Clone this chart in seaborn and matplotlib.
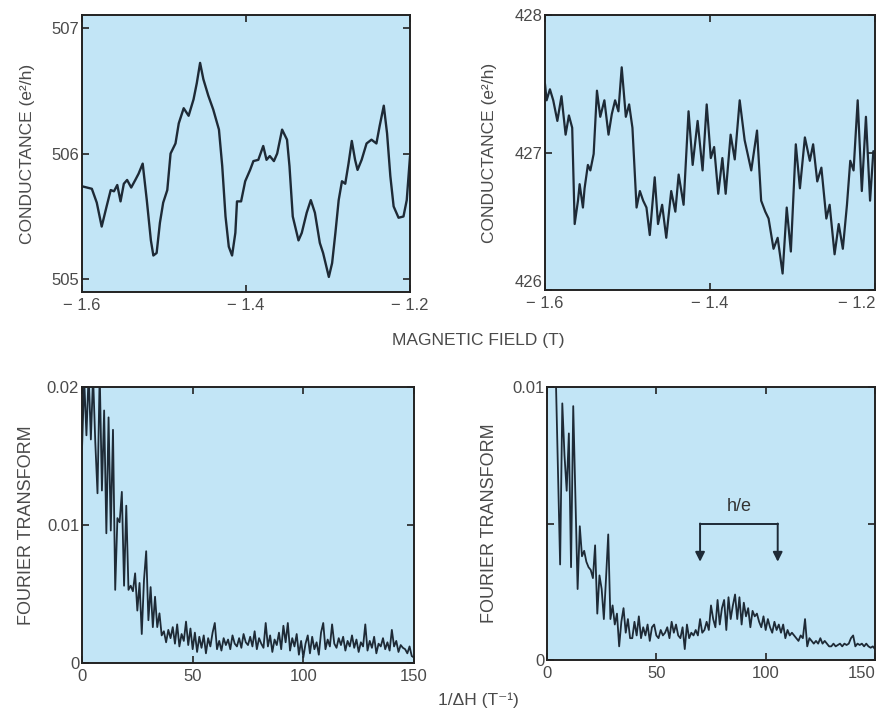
import matplotlib
matplotlib.use("Agg")
import matplotlib.pyplot as plt
from matplotlib.ticker import FuncFormatter
import seaborn as sns
import pandas as pd
import numpy as np

# conductance vs magnetic field, left device (e^2/h)
field_a = [-1.600, -1.594, -1.588, -1.582, -1.576, -1.570, -1.565, -1.561, -1.557, -1.553,
           -1.549, -1.545, -1.540, -1.535, -1.531, -1.526, -1.521, -1.516, -1.513, -1.509,
           -1.505, -1.501, -1.496, -1.492, -1.486, -1.482, -1.476, -1.470, -1.464, -1.460,
           -1.456, -1.452, -1.446, -1.440, -1.433, -1.429, -1.425, -1.421, -1.417, -1.413,
           -1.411, -1.406, -1.401, -1.395, -1.391, -1.385, -1.379, -1.375, -1.371, -1.366,
           -1.362, -1.356, -1.350, -1.347, -1.343, -1.336, -1.332, -1.326, -1.321, -1.316,
           -1.310, -1.306, -1.299, -1.295, -1.291, -1.287, -1.283, -1.279, -1.275, -1.271,
           -1.267, -1.264, -1.259, -1.253, -1.247, -1.241, -1.237, -1.232, -1.228, -1.224,
           -1.220, -1.214, -1.208, -1.204, -1.200]
cond_a = [505.74, 505.73, 505.72, 505.61, 505.42, 505.58, 505.71, 505.70, 505.75, 505.62,
          505.76, 505.79, 505.73, 505.79, 505.84, 505.92, 505.63, 505.31, 505.19, 505.21,
          505.45, 505.61, 505.71, 506.00, 506.08, 506.24, 506.36, 506.30, 506.43, 506.56,
          506.72, 506.59, 506.46, 506.35, 506.19, 505.90, 505.50, 505.26, 505.19, 505.37,
          505.62, 505.62, 505.78, 505.87, 505.94, 505.95, 506.06, 505.95, 505.98, 505.94,
          506.00, 506.19, 506.11, 505.90, 505.50, 505.31, 505.37, 505.53, 505.63, 505.53,
          505.29, 505.21, 505.02, 505.13, 505.37, 505.63, 505.78, 505.76, 505.92, 506.10,
          505.95, 505.87, 505.95, 506.08, 506.11, 506.08, 506.22, 506.38, 506.16, 505.82,
          505.58, 505.49, 505.50, 505.63, 505.98]

# conductance vs magnetic field, right device (e^2/h)
field_b = [-1.600, -1.598, -1.594, -1.590, -1.585, -1.580, -1.575, -1.571, -1.567, -1.564,
           -1.560, -1.558, -1.554, -1.552, -1.548, -1.545, -1.541, -1.537, -1.533, -1.528,
           -1.523, -1.519, -1.515, -1.511, -1.507, -1.502, -1.498, -1.494, -1.489, -1.485,
           -1.481, -1.477, -1.473, -1.467, -1.463, -1.458, -1.453, -1.447, -1.442, -1.438,
           -1.432, -1.426, -1.421, -1.415, -1.409, -1.404, -1.399, -1.395, -1.390, -1.385,
           -1.381, -1.375, -1.370, -1.364, -1.358, -1.350, -1.343, -1.338, -1.333, -1.329,
           -1.323, -1.318, -1.312, -1.307, -1.302, -1.296, -1.291, -1.285, -1.279, -1.275,
           -1.270, -1.265, -1.259, -1.255, -1.249, -1.244, -1.239, -1.234, -1.230, -1.226,
           -1.221, -1.216, -1.211, -1.206, -1.202]
cond_b = [427.50, 427.38, 427.46, 427.38, 427.23, 427.41, 427.13, 427.27, 427.18, 426.48,
          426.65, 426.77, 426.60, 426.74, 426.91, 426.87, 426.99, 427.45, 427.26, 427.38,
          427.13, 427.28, 427.38, 427.30, 427.62, 427.26, 427.35, 427.18, 426.60, 426.72,
          426.65, 426.60, 426.40, 426.82, 426.48, 426.62, 426.38, 426.72, 426.57, 426.84,
          426.62, 427.30, 426.91, 427.23, 426.87, 427.35, 426.96, 427.04, 426.70, 426.96,
          426.70, 427.13, 426.95, 427.38, 427.09, 426.87, 427.16, 426.65, 426.57, 426.52,
          426.30, 426.38, 426.12, 426.60, 426.28, 427.06, 426.74, 427.11, 426.94, 427.06,
          426.79, 426.89, 426.52, 426.62, 426.26, 426.48, 426.30, 426.62, 426.94, 426.87,
          427.38, 426.72, 427.26, 426.65, 427.01]

# Fourier transforms (units of 1e-3), 1/dH from 0 to 150 T^-1
freq_a = list(range(0, 151))
fft_a = [15.5, 20.5, 16.5, 21.0, 16.2, 20.8, 16.0, 12.3, 21.0, 12.5,
         18.3, 9.4, 17.8, 9.6, 16.9, 5.3, 10.5, 10.2, 12.4, 5.6,
         11.4, 5.3, 5.6, 5.2, 6.5, 3.8, 5.8, 2.1, 6.0, 8.1,
         3.1, 5.5, 2.6, 4.8, 2.6, 3.6, 2.0, 2.3, 1.5, 2.4,
         1.8, 2.6, 1.4, 2.8, 1.2, 2.1, 1.6, 3.0, 1.3, 2.5,
         1.0, 2.2, 0.8, 1.9, 1.1, 2.0, 0.7, 1.8, 1.2, 2.2,
         2.9, 1.0, 1.6, 0.9, 1.8, 1.3, 1.7, 1.0, 2.0, 1.4,
         1.2, 1.8, 1.1, 2.1, 1.5, 1.3, 1.9, 1.2, 2.3, 1.0,
         1.8, 1.4, 1.1, 2.9, 1.2, 2.0, 0.8, 1.7, 1.3, 2.2,
         1.0, 2.7, 1.5, 2.9, 0.9, 1.8, 1.2, 2.1, 0.6, 1.6,
         0.4, 1.4, 2.0, 0.7, 1.9, 1.0, 1.5, 0.6, 2.2, 2.9,
         1.0, 1.7, 1.2, 2.8, 1.4, 1.1, 1.8, 1.3, 1.9, 0.9,
         1.6, 1.2, 2.0, 1.1, 1.7, 0.8, 1.5, 1.2, 2.8, 0.9,
         1.6, 1.1, 1.9, 0.7, 1.4, 1.2, 1.8, 1.0, 1.5, 0.9,
         2.4, 1.2, 1.6, 0.8, 1.3, 1.1, 1.0, 0.7, 1.2, 0.5,
         0.4]

freq_b = list(range(4, 151))
fft_b = [10.5, 7.0, 3.5, 9.4, 7.5, 6.2, 8.3, 3.4, 9.3, 6.0,
         2.6, 4.9, 3.8, 4.0, 3.6, 3.4, 3.3, 3.0, 4.2, 1.7,
         3.1, 2.6, 1.5, 3.0, 4.6, 1.5, 2.0, 1.3, 1.7, 0.5,
         1.4, 1.9, 1.0, 1.5, 0.8, 0.8, 1.4, 0.9, 1.6, 0.8,
         1.2, 0.9, 1.3, 0.7, 1.2, 1.3, 0.9, 0.8, 1.1, 0.9,
         1.0, 1.2, 0.8, 1.4, 1.0, 1.3, 0.9, 0.8, 1.2, 0.4,
         1.3, 0.8, 1.0, 0.9, 1.1, 0.9, 1.5, 1.0, 1.1, 1.4,
         1.1, 2.0, 1.5, 1.2, 2.2, 1.3, 1.9, 2.2, 1.1, 2.3,
         1.5, 2.0, 2.4, 1.5, 2.3, 1.3, 2.1, 1.6, 1.9, 1.2,
         1.8, 1.6, 1.7, 1.4, 1.2, 1.6, 1.1, 1.5, 1.2, 1.0,
         1.4, 1.1, 1.3, 1.0, 1.3, 0.8, 1.1, 0.9, 1.0, 0.9,
         0.8, 0.7, 0.9, 0.8, 1.5, 0.5, 0.8, 0.7, 0.6, 0.7,
         0.6, 0.8, 0.6, 0.7, 0.6, 0.5, 0.5, 0.6, 0.5, 0.55,
         0.6, 0.5, 0.6, 0.55, 0.6, 0.8, 0.9, 0.5, 0.6, 0.55,
         0.6, 0.5, 0.6, 0.5, 0.45, 0.5, 0.4]

# h/e bracket on the right transform
he_left, he_right = 70, 105.5
he_top, he_tip = 5.0e-3, 3.6e-3

bg = "#c2e5f6"
ink = "#1e2a36"
txt = "#4a4a4a"

sns.set_style("ticks")
plt.rcParams["font.family"] = ["Liberation Sans", "DejaVu Sans"]
plt.rcParams["axes.linewidth"] = 1.4
plt.rcParams["axes.edgecolor"] = "#222222"

fig = plt.figure(figsize=(8.78, 7.10), dpi=100)
fig.patch.set_facecolor("white")

ax_tl = fig.add_axes([0.0934, 0.5887, 0.3736, 0.3901])
ax_tr = fig.add_axes([0.6207, 0.5915, 0.3759, 0.3873])
ax_bl = fig.add_axes([0.0934, 0.0662, 0.3781, 0.3887])
ax_br = fig.add_axes([0.6230, 0.0704, 0.3736, 0.3845])

df_a = pd.DataFrame({"field": field_a, "g": cond_a})
df_b = pd.DataFrame({"field": field_b, "g": cond_b})
df_fa = pd.DataFrame({"f": freq_a, "amp": np.array(fft_a) * 1e-3})
df_fb = pd.DataFrame({"f": freq_b, "amp": np.array(fft_b) * 1e-3})

sns.lineplot(data=df_a, x="field", y="g", ax=ax_tl, color=ink, lw=1.7, sort=False, estimator=None)
sns.lineplot(data=df_b, x="field", y="g", ax=ax_tr, color=ink, lw=1.6, sort=False, estimator=None)
sns.lineplot(data=df_fa, x="f", y="amp", ax=ax_bl, color=ink, lw=1.3, sort=False, estimator=None)
sns.lineplot(data=df_fb, x="f", y="amp", ax=ax_br, color=ink, lw=1.3, sort=False, estimator=None)

field_fmt = FuncFormatter(lambda v, p: "\u2212 %.1f" % abs(v))

for ax in (ax_tl, ax_tr, ax_bl, ax_br):
    ax.set_facecolor(bg)
    ax.tick_params(direction="in", top=True, right=True, length=5, width=1.2,
                   labelsize=12, labelcolor=txt, color="#222222")
    ax.tick_params(axis="x", pad=4)
    ax.tick_params(axis="y", pad=2)
    ax.set_xlabel("")

ax_tl.set_xlim(-1.6, -1.2)
ax_tl.set_ylim(504.9, 507.1)
ax_tl.set_xticks([-1.6, -1.4, -1.2])
ax_tl.set_yticks([505, 506, 507])
ax_tl.xaxis.set_major_formatter(field_fmt)

ax_tr.set_xlim(-1.6, -1.2)
ax_tr.set_ylim(426, 428)
ax_tr.set_xticks([-1.6, -1.4, -1.2])
ax_tr.set_yticks([426, 427, 428])
ax_tr.xaxis.set_major_formatter(field_fmt)

ax_bl.set_xlim(0, 150)
ax_bl.set_ylim(0, 0.02)
ax_bl.set_xticks([0, 50, 100, 150])
ax_bl.set_yticks([0, 0.01, 0.02])
ax_bl.set_yticklabels(["0", "0.01", "0.02"])

ax_br.set_xlim(0, 150)
ax_br.set_ylim(0, 0.01)
ax_br.set_xticks([0, 50, 100, 150])
ax_br.set_yticks([0, 0.005, 0.01])
ax_br.set_yticklabels(["0", "", "0.01"])

# right-hand panels sit at the page edge: pull their last tick label inward
for ax in (ax_tr, ax_br):
    fig.canvas.draw()
    ax.get_xticklabels()[-1].set_horizontalalignment("right")
    ax.get_xticklabels()[-1].set_x(ax.get_xticks()[-1])
ax_tr.get_yticklabels()[0].set_verticalalignment("bottom")

for ax, xc in ((ax_tl, -0.143), (ax_tr, -0.145)):
    ax.set_ylabel("CONDUCTANCE (e\u00b2/h)", fontsize=12.5, color=txt)
    ax.yaxis.set_label_coords(xc, 0.5)
for ax, xc in ((ax_bl, -0.142), (ax_br, -0.149)):
    ax.set_ylabel("FOURIER TRANSFORM", fontsize=13, color=txt)
    ax.yaxis.set_label_coords(xc, 0.5)

# h/e bracket
ax_br.plot([he_left, he_right], [he_top, he_top], color=ink, lw=1.4)
for xb in (he_left, he_right):
    ax_br.annotate("", xy=(xb, he_tip), xytext=(xb, he_top),
                   arrowprops=dict(arrowstyle="-|>", color=ink, lw=1.4,
                                   mutation_scale=14, shrinkA=0, shrinkB=0))
ax_br.text((he_left + he_right) / 2, 5.3e-3, "h/e", ha="center", va="bottom",
           fontsize=13, color="#333333")

fig.text(0.545, 0.521, "MAGNETIC FIELD (T)", ha="center", va="center", fontsize=12.5, color=txt)
fig.text(0.545, 0.014, "1/\u0394H (T\u207b\u00b9)", ha="center", va="center", fontsize=12.5, color=txt)

fig.savefig("out.png", dpi=100, facecolor="white")
